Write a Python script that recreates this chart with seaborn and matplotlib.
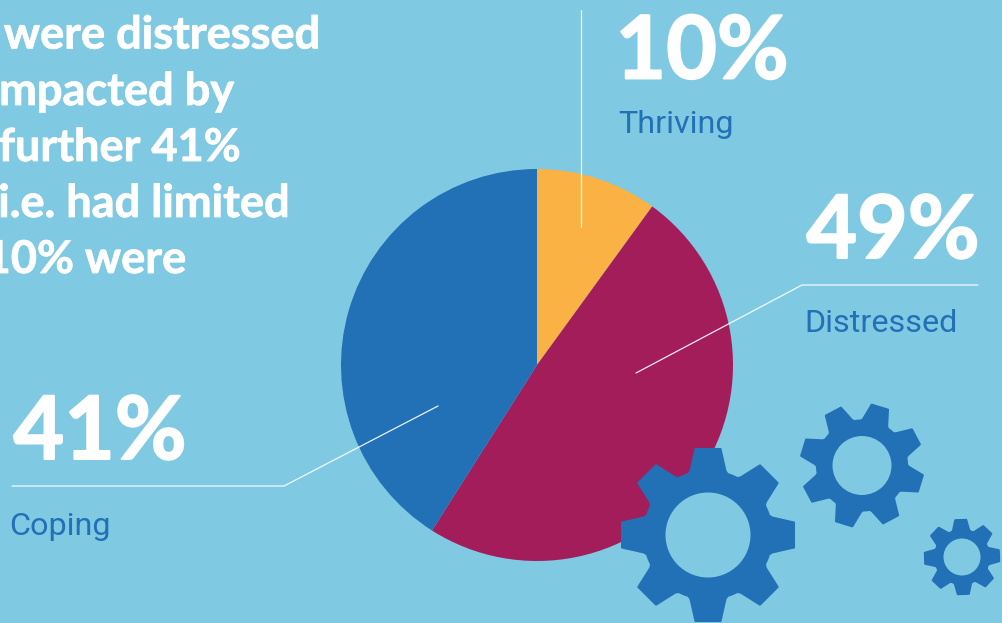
import numpy as np
import matplotlib
matplotlib.use("Agg")
import matplotlib.pyplot as plt
import matplotlib.patheffects as pe
from matplotlib.path import Path
from matplotlib.patches import PathPatch
import seaborn as sns

categories = ["Thriving", "Distressed", "Coping"]
shares = [10, 49, 41]
share_labels = ["10%", "49%", "41%"]
slice_colors = ["#F9B243", "#A31D5B", "#2270B6"]
intro_lines = ["were distressed", "impacted by", "a further 41%", "i.e. had limited", "10% were"]

BACKGROUND = "#7FC9E2"
BLUE = "#2270B6"

sns.set_theme(style="white", rc={"figure.facecolor": BACKGROUND, "axes.facecolor": BACKGROUND})
palette = sns.color_palette(slice_colors)

fig = plt.figure(figsize=(10.02, 6.23), dpi=100)
ax = fig.add_axes([0, 0, 1, 1])

# Share of respondents, clockwise from twelve o'clock (the y axis runs downward)
ax.pie(shares, colors=palette, startangle=-90, counterclock=True, center=(537, 365), radius=196,
       wedgeprops={"linewidth": 0}, frame=True)
ax.set_xlim(0, 1002)
ax.set_ylim(623, 0)
ax.set_aspect("equal")
ax.axis("off")
fig.patch.set_facecolor(BACKGROUND)


def gear_path(cx, cy, outer, root, hole, tip_half, base_half, turn, teeth=8):
    """Toothed outline with a round hole, as one compound path."""
    verts = []
    step = 2 * np.pi / teeth
    for k in range(teeth):
        a = np.deg2rad(turn) + k * step
        ux, uy = np.cos(a), np.sin(a)
        vx, vy = -uy, ux
        for rad, off in [(root, -base_half), (outer, -tip_half), (outer, tip_half), (root, base_half)]:
            verts.append((cx + rad * ux + off * vx, cy + rad * uy + off * vy))
        # root arc up to the next tooth
        a0 = a + np.arcsin(base_half / root)
        a1 = a + step - np.arcsin(base_half / root)
        for t in np.linspace(a0, a1, 8)[1:-1]:
            verts.append((cx + root * np.cos(t), cy + root * np.sin(t)))
    codes = [Path.MOVETO] + [Path.LINETO] * (len(verts) - 1)
    verts.append(verts[0])
    codes.append(Path.CLOSEPOLY)
    circle = np.linspace(0, -2 * np.pi, 73)
    verts += [(cx + hole * np.cos(t), cy + hole * np.sin(t)) for t in circle]
    codes += [Path.MOVETO] + [Path.LINETO] * 71 + [Path.CLOSEPOLY]
    return Path(verts, codes)


for spec in [(708, 535, 86, 64, 42.5, 12.5, 17.5, 90),
             (862, 465.5, 61, 45, 29.5, 8.5, 12.5, 107),
             (962, 557, 37, 27, 18.5, 5.5, 8, 88)]:
    ax.add_patch(PathPatch(gear_path(*spec), facecolor=BLUE, edgecolor=BLUE, linewidth=1.5,
                           joinstyle="round", zorder=4))
    ax.add_patch(plt.Circle(spec[:2], spec[4], facecolor=BACKGROUND, edgecolor="none", zorder=4.5))

# Leader lines from the slices to their labels
leaders = [([581, 581], [10, 227]),
           ([636, 802, 978], [373, 285, 285]),
           ([438, 284, 12], [406, 486, 486])]
for xs, ys in leaders:
    ax.plot(xs, ys, color="white", lw=0.9, alpha=0.9, zorder=5, solid_joinstyle="miter")

heavy_big = [pe.withStroke(linewidth=1.4, foreground="white")]
heavy_small = [pe.withStroke(linewidth=0.6, foreground="white")]

# Big percentages and their category names
label_pos = [(702, 78.5, 618, 133), (893, 258, 804, 332), (100, 459, 9, 535)]
for (nx, ny, tx, ty), pct, name in zip(label_pos, share_labels, categories):
    ax.text(nx, ny, pct, color="white", family="Lato", weight="bold", fontsize=63, ha="center", va="baseline",
            zorder=6, path_effects=heavy_big)
    ax.text(tx, ty, name, color=BLUE, family="Roboto", fontsize=23.3, ha="left", va="baseline", zorder=6)

# Intro paragraph, running off the left edge
intro_right = [320, 234, 241, 290, 186]
intro_y = [48.5, 105, 161, 217, 273]
for x, y, line in zip(intro_right, intro_y, intro_lines):
    ax.text(x, y, line, color="white", family="Lato", weight="bold", fontsize=32.5, ha="right", va="baseline",
            zorder=6, path_effects=heavy_small)

fig.savefig("out.png", dpi=100, facecolor=BACKGROUND)
